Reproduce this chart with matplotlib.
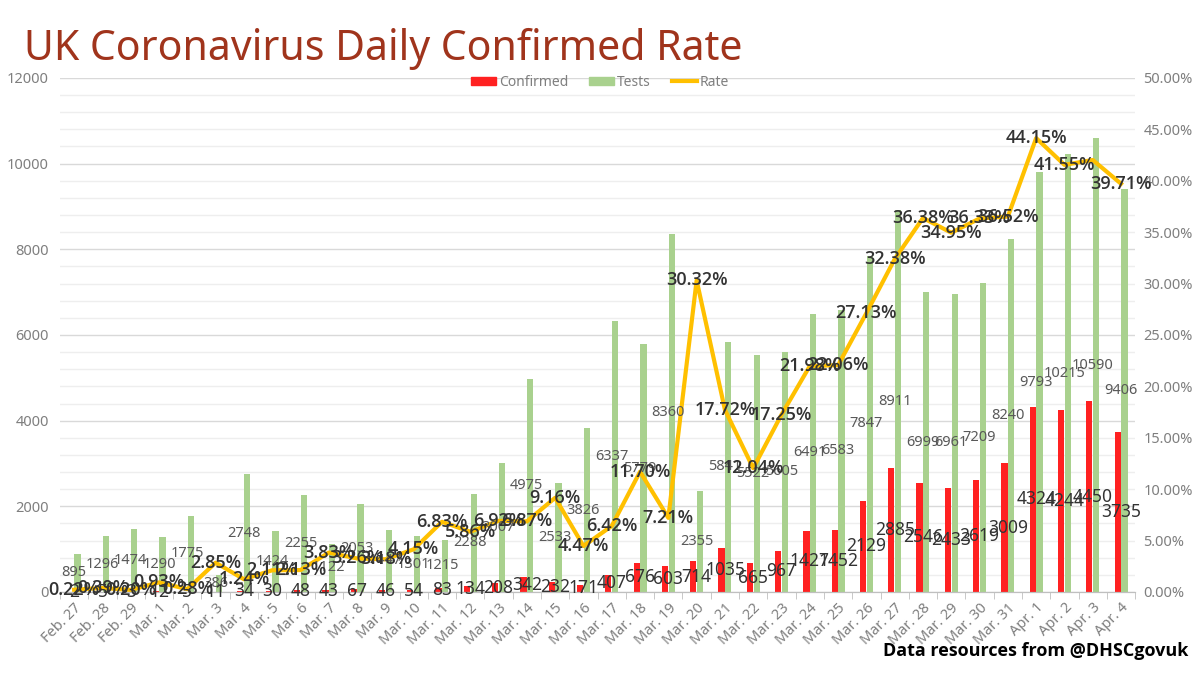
import numpy as np
import matplotlib
matplotlib.use("Agg")
import matplotlib.pyplot as plt
from matplotlib.patches import Patch
from matplotlib.lines import Line2D
from matplotlib.ticker import MultipleLocator, FuncFormatter

plt.rcParams['font.family'] = ['Noto Sans', 'DejaVu Sans']

# data
dates = ['Feb. 27', 'Feb. 28', 'Feb. 29'] + ['Mar. %d' % d for d in range(1, 32)] + \
        ['Apr. %d' % d for d in range(1, 5)]
confirmed = [2, 5, 3, 12, 5, 11, 34, 30, 48, 43, 67, 46, 54, 83, 134, 208, 342, 232,
             171, 407, 676, 603, 714, 1035, 665, 967, 1427, 1452, 2129, 2885, 2546,
             2433, 2619, 3009, 4324, 4244, 4450, 3735]
tests = [895, 1296, 1474, 1290, 1775, 386, 2748, 1424, 2255, 1122, 2053, 1447, 1301,
         1215, 2288, 3007, 4975, 2533, 3826, 6337, 5779, 8360, 2355, 5841, 5522, 5605,
         6491, 6583, 7847, 8911, 6999, 6961, 7209, 8240, 9793, 10215, 10590, 9406]
rate = [0.22, 0.39, 0.20, 0.93, 0.28, 2.85, 1.24, 2.11, 2.13, 3.83, 3.26, 3.18, 4.15,
        6.83, 5.86, 6.92, 6.87, 9.16, 4.47, 6.42, 11.70, 7.21, 30.32, 17.72, 12.04,
        17.25, 21.98, 22.06, 27.13, 32.38, 36.38, 34.95, 36.33, 36.52, 44.15, 41.55,
        42.02, 39.71]
hidden_rate_labels = ['Apr. 3']

RED = '#FF2121'
GREEN = '#A9D18E'
GOLD = '#FFC000'
GREY = '#7F7F7F'
DARK = '#333333'

fig = plt.figure(figsize=(12, 6.75), dpi=100)
ax = fig.add_axes([0.05, 0.123, 0.896, 0.7615])
ax2 = ax.twinx()

x = np.arange(len(dates))
w = 0.22
ax.bar(x - 0.12, confirmed, w, color=RED, zorder=2)
ax.bar(x + 0.12, tests, w, color=GREEN, zorder=2)
ax2.plot(x, np.array(rate) / 100, color=GOLD, lw=3, zorder=3)

ax.set_xlim(-0.5, len(dates) - 0.5)
ax.set_ylim(0, 12000)
ax2.set_ylim(0, 0.5)

ax.yaxis.set_major_locator(MultipleLocator(2000))
ax.yaxis.set_minor_locator(MultipleLocator(400))
ax.grid(which='major', axis='y', color='#D9D9D9', lw=1, zorder=0)
ax.grid(which='minor', axis='y', color='#EEEEEE', lw=1, zorder=0)
ax.set_axisbelow(True)

ax2.yaxis.set_major_locator(MultipleLocator(0.05))
ax2.yaxis.set_major_formatter(FuncFormatter(lambda v, p: '%.2f%%' % (v * 100)))

for a in (ax, ax2):
    for s in ('top', 'left', 'right'):
        a.spines[s].set_visible(False)
    a.spines['bottom'].set_color('#BFBFBF')
ax.tick_params(axis='y', which='both', length=0, labelsize=10.5, labelcolor=GREY, pad=8)
ax2.tick_params(axis='y', which='both', length=0, labelsize=10.5, labelcolor=GREY, pad=6)

ax.set_xticks(x)
ax.set_xticklabels(dates, rotation=45, ha='right', rotation_mode='anchor',
                   fontsize=10.5, color=GREY)
ax.set_xticks(np.arange(len(dates) + 1) - 0.5, minor=True)
ax.tick_params(axis='x', which='major', length=0, pad=6)
ax.tick_params(axis='x', which='minor', length=5, color='#BFBFBF')

# data labels
for i in range(len(dates)):
    ax2.text(x[i], tests[i] / 2, str(tests[i]), transform=ax.transData,
             ha='center', va='center', fontsize=10.5, color='#595959', zorder=5)
    ax2.text(x[i], confirmed[i] / 2, str(confirmed[i]), transform=ax.transData,
             ha='center', va='center', fontsize=12.5, color=DARK, zorder=5)
    if dates[i] not in hidden_rate_labels:
        ax2.text(x[i], rate[i] / 100, '%.2f%%' % rate[i], ha='center', va='center',
                 fontsize=13, color=DARK, fontweight='semibold',
                 family=['Open Sans', 'DejaVu Sans'], zorder=6)

handles = [Patch(color=RED), Patch(color=GREEN), Line2D([], [], color=GOLD, lw=3)]
fig.legend(handles, ['Confirmed', 'Tests', 'Rate'], loc='center', ncol=3,
           bbox_to_anchor=(0.5, 0.878), frameon=False, fontsize=10, labelcolor=GREY,
           handlelength=1.8, handleheight=0.6, handletextpad=0.2, columnspacing=1.5)

fig.text(0.02, 0.928, 'UK Coronavirus Daily Confirmed Rate', fontsize=29.5,
         color='#A0341C', ha='left', va='center')
fig.text(0.99, 0.035, 'Data resources from @DHSCgovuk', fontsize=13,
         fontweight='bold', color='black', ha='right', va='center',
         family=['Open Sans', 'DejaVu Sans'])

fig.savefig('out.png', dpi=100)
